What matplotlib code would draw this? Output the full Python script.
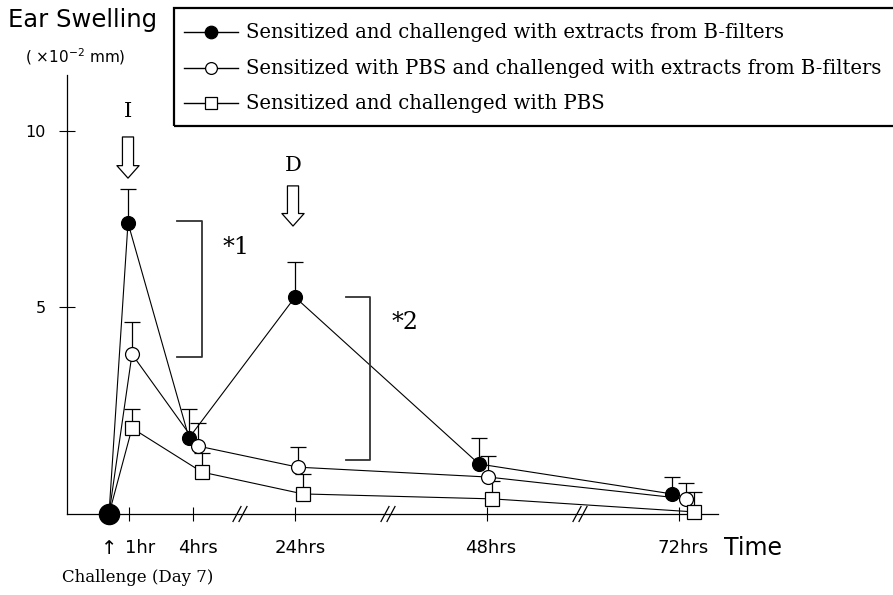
import numpy as np
import matplotlib
matplotlib.use("Agg")
import matplotlib.pyplot as plt
from matplotlib.lines import Line2D
from matplotlib.patches import Rectangle

# ---- data (units of 10^-2 mm) ----
time_labels = ["1hr", "4hrs", "24hrs", "48hrs", "72hrs"]
challenge_value = -0.88   # shared starting point at the challenge

sens_mean = [7.39, 1.28, 5.28, 0.54, -0.31]
sens_err = [0.96, 0.82, 1.00, 0.74, 0.48]

pbs_chal_mean = [3.66, 1.05, 0.45, 0.17, -0.45]
pbs_chal_err = [0.91, 0.65, 0.57, 0.60, 0.45]

pbs_mean = [1.56, 0.31, -0.31, -0.45, -0.82]
pbs_err = [0.54, 0.54, 0.57, 0.51, 0.56]

labels = ["Sensitized and challenged with extracts from B-filters",
          "Sensitized with PBS and challenged with extracts from B-filters",
          "Sensitized and challenged with PBS"]

# ---- layout (broken time axis, so slots are just positions) ----
challenge_slot = 42
slots = np.array([62, 126, 228, 420, 612])
break_slots = [173, 321, 513]
offsets = [np.array([-1, -4, 0, -8, -7]),
           np.array([3, 5, 3, 1, 7]),
           np.array([3, 9, 8, 5, 15])]
label_shift = [11, 5, 5, 4, 4]   # tick labels sit a bit right of their ticks

W, H = 893, 595
fig = plt.figure(figsize=(W / 100, H / 100), dpi=100)
ax = fig.add_axes([67 / W, 1 - 514 / H, (718 - 67) / W, (514 - 75) / H])
ax.set_xlim(0, 651)
ax.set_ylim(-0.88, 11.59)

for s in ["top", "right"]:
    ax.spines[s].set_visible(False)
for s in ["left", "bottom"]:
    ax.spines[s].set_linewidth(0.9)

series = [(sens_mean, sens_err, "o", "black", 10),
          (pbs_chal_mean, pbs_chal_err, "o", "white", 10),
          (pbs_mean, pbs_err, "s", "white", 9.5)]

for i, (mean, err, mk, fc, ms) in enumerate(series):
    x = slots + offsets[i]
    y = np.array(mean)
    e = np.array(err)
    ax.plot(np.r_[challenge_slot, x], np.r_[challenge_value, y],
            color="black", lw=0.8, zorder=2, clip_on=False)
    eb = ax.errorbar(x, y, yerr=[np.zeros_like(e), e], fmt="none",
                     ecolor="black", elinewidth=0.9, capsize=6,
                     capthick=0.9, zorder=3)
    # upward-only bars: hide the cap sitting at the mean
    for cap in eb[1]:
        if np.allclose(cap.get_ydata(), y):
            cap.set_visible(False)
    ax.plot(x, y, linestyle="none", marker=mk, ms=ms, mfc=fc,
            mec="black", mew=0.9, zorder=4, clip_on=False)

ax.plot([challenge_slot], [challenge_value], marker="o", ms=14.5,
        color="black", clip_on=False, zorder=5)

# ticks (x labels placed by hand, offset like the original)
ax.set_xticks(slots)
ax.set_xticklabels([])
bt = ax.get_xaxis_transform()
for sx, lab, dx in zip(slots, time_labels, label_shift):
    ax.text(sx + dx, -0.077, lab, transform=bt, ha="center", va="center",
            fontsize=13, family="DejaVu Sans", clip_on=False)
ax.set_yticks([5, 10])
ax.set_yticklabels(["5", "10"], fontsize=11.5, family="DejaVu Sans")
ax.tick_params(axis="x", direction="inout", length=9.5, width=0.8)
ax.tick_params(axis="y", direction="inout", length=11, width=0.8, pad=10)

# axis breaks
for bx in break_slots:
    for d in (-3, 3):
        ax.plot([bx + d - 4, bx + d + 4], [-0.017, 0.017], color="black",
                lw=0.9, transform=bt, clip_on=False)

# hollow arrows with labels
serif = "DejaVu Serif"
for xs, top, bottom, lab, laby in [(61, 9.83, 8.66, "I", 10.54),
                                   (226, 8.44, 7.30, "D", 9.03)]:
    ax.annotate("", xy=(xs, bottom), xytext=(xs, top),
                arrowprops=dict(arrowstyle="simple,head_length=9,head_width=16,tail_width=8",
                                mutation_scale=1, fc="white", ec="black",
                                lw=0.9, shrinkA=0, shrinkB=0))
    ax.text(xs, laby, lab, ha="center", va="center", fontsize=15, family=serif)

# significance brackets
for bx, y0, y1, arm, lab, tx, ty in [(135, 7.44, 3.58, 25, "*1", 169, 6.68),
                                     (303, 5.28, 0.65, 24, "*2", 338, 4.57)]:
    ax.plot([bx - arm, bx, bx, bx - arm], [y0, y0, y1, y1],
            color="#333333", lw=1.3)
    ax.text(tx, ty, lab, ha="center", va="center", fontsize=17, family=serif)

# axis titles
fig.text(8 / W, 1 - 20 / H, "Ear Swelling", fontsize=17.5, va="center",
         family="DejaVu Sans")
fig.text(75 / W, 1 - 57 / H, "( ×10$^{-2}$ mm)", fontsize=11,
         ha="center", va="center", family="DejaVu Sans")
fig.text(753 / W, 1 - 548 / H, "Time", fontsize=17, ha="center",
         va="center", family="DejaVu Sans")
fig.text(109 / W, 1 - 549 / H, "↑", fontsize=14, ha="center",
         va="center", family="DejaVu Sans")
fig.text(138 / W, 1 - 578 / H, "Challenge (Day 7)", fontsize=12,
         ha="center", va="center", family=serif)

# legend box drawn by hand so it can run off the right edge
fig.patches.append(Rectangle((174 / W, 1 - 126 / H), (905 - 174) / W,
                             (126 - 8) / H, transform=fig.transFigure,
                             fill=False, ec="black", lw=1.6))
rows = [32, 68, 103]
styles = [("o", "black", 9), ("o", "white", 8.5), ("s", "white", 8)]
for ry, (mk, fc, ms), lab in zip(rows, styles, labels):
    yy = 1 - ry / H
    fig.add_artist(Line2D([184 / W, 238 / W], [yy, yy], color="black",
                          lw=1.0, transform=fig.transFigure))
    fig.add_artist(Line2D([211 / W], [yy], color="black", marker=mk, ms=ms,
                          mfc=fc, mec="black", mew=0.9, linestyle="none",
                          transform=fig.transFigure))
    fig.text(246 / W, yy, lab, fontsize=14.1, va="center", family=serif)

fig.savefig("out.png", dpi=100)
